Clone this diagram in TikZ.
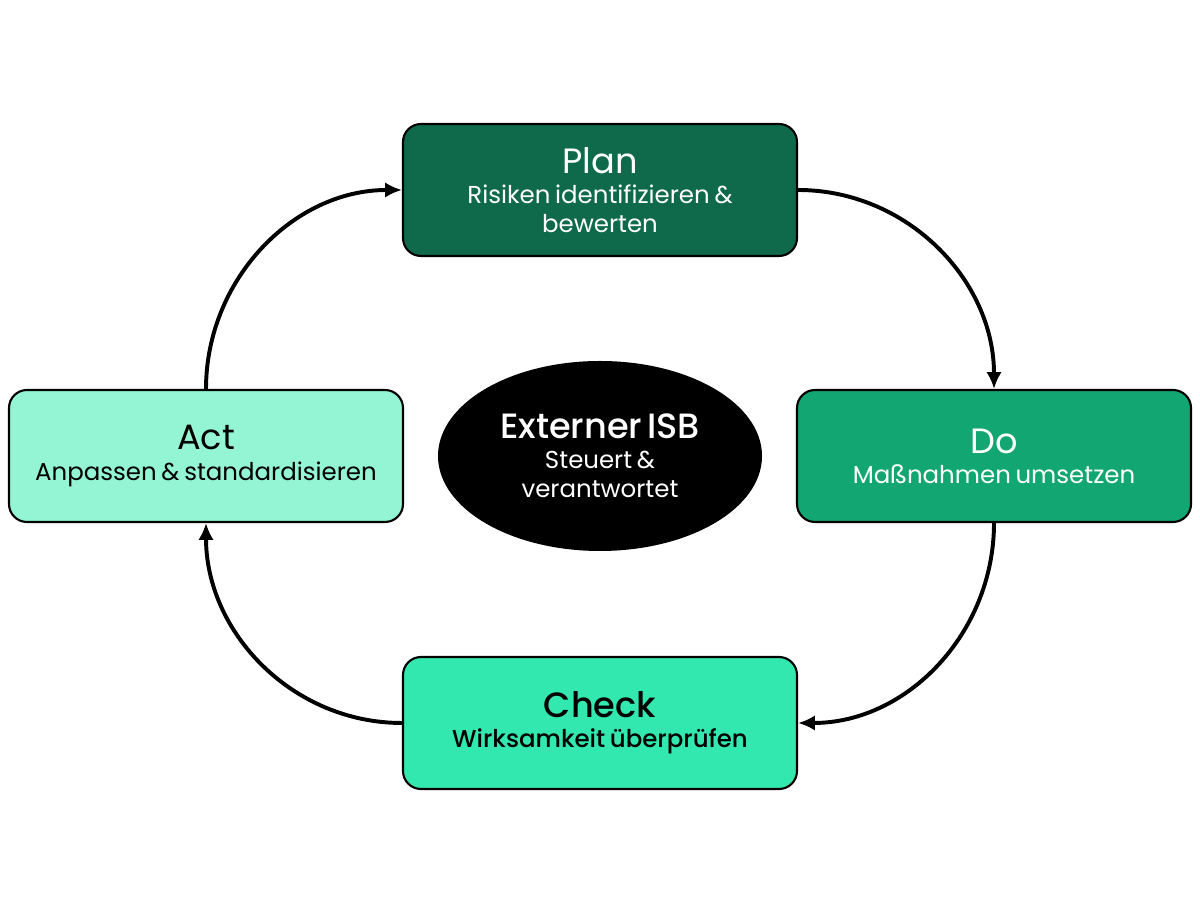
\documentclass[tikz,border=0pt]{standalone}
\usepackage{fontspec}
\setmainfont{Poppins}
\newfontfamily\popmed{Poppins Medium}
\usepackage{tikz}
\usetikzlibrary{arrows.meta,shapes.geometric}

\definecolor{planC}{HTML}{0E6A4A}
\definecolor{doC}{HTML}{12A673}
\definecolor{checkC}{HTML}{33E8AE}
\definecolor{actC}{HTML}{93F5D4}

\newcommand{\phasetext}[2]{{\fontsize{25}{30}\selectfont #1\par}\vspace{1pt}{\fontsize{17.4}{20.5}\selectfont #2\par}}

\begin{document}
\begin{tikzpicture}[%
>={Latex[length=12pt,width=11pt]},
phase/.style={draw, rounded corners=0.45cm, line width=1.5pt, minimum width=9.85cm, minimum height=3.3cm, align=center, text width=9.5cm},
hub/.style={draw=none, fill=black, ellipse, inner sep=0pt, minimum width=8.1cm, minimum height=4.75cm, align=center, text width=5cm, text=white},
cyc/.style={->, line width=2.8pt}]%Phase boxes, centre ellipse and cycle arrows
\useasboundingbox (0,0) rectangle (30,22.5);
\node[phase, fill=planC, text=white] (P) at (15,17.75) {\phasetext{Plan}{Risiken identifizieren \&\\bewerten}};
\node[phase, fill=doC, text=white] (D) at (24.85,11.1) {\phasetext{Do}{Maßnahmen umsetzen}};
\node[phase, fill=checkC, font=\popmed] (C) at (15,4.425) {\phasetext{Check}{Wirksamkeit überprüfen}};
\node[phase, fill=actC] (A) at (5.15,11.1) {\phasetext{Act}{Anpassen \& standardisieren}};
\node[hub, font=\popmed] (I) at (15,11.1) {{\fontsize{25}{30}\selectfont Externer ISB\par}\vspace{1pt}{\normalfont\fontsize{17.4}{20.5}\selectfont Steuert \&\\verantwortet\par}};
\draw[cyc] (P.east) to[out=0, in=90] (D.north); %Plan to Do
\draw[cyc] (D.south) to[out=-90, in=0] (C.east);
\draw[cyc] (C.west) to[out=180, in=-90] (A.south);
\draw[cyc] (A.north) to[out=90, in=180] (P.west);
\end{tikzpicture}
\end{document}
